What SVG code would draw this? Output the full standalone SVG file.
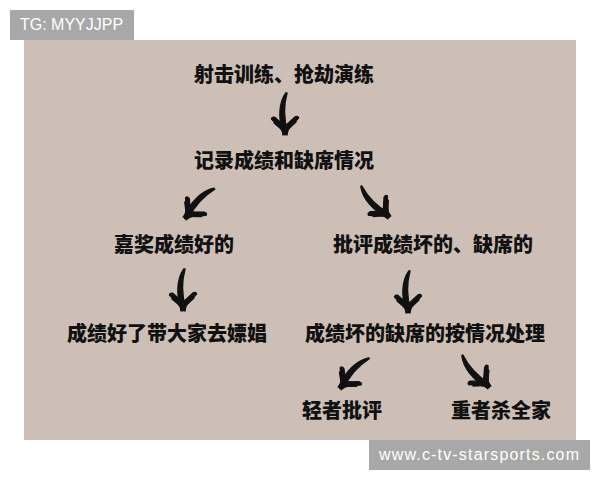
<svg xmlns="http://www.w3.org/2000/svg" width="600" height="480" viewBox="0 0 600 480">
  <style>
    .node text { font-family: "Noto Sans CJK SC", "Noto Sans", sans-serif; font-weight: 900; font-size: 20px; fill: #111111; text-anchor: middle; }
    .tag rect { fill: #a8a8a8; }
    .tag text { font-family: "Liberation Sans", Arial, sans-serif; font-size: 16px; fill: #ffffff; }
    .arrow { fill: #111111; stroke: #111111; stroke-width: 1.4; stroke-linejoin: round; }
  </style>
  <defs>
    <g id="brushArrow">
      <path d="M 0.8,-40 C -6,-30 -7,-15 -2,-1 L 2.5,-1.5 C -1.5,-15 -1,-29 2,-40 Z"/>
      <path d="M 2,2 L -13.5,-14 Q -13,-16.5 -10,-15.5 L 3,-4 Z"/>
      <path d="M -2,2 L 13.5,-15 Q 13,-17.5 10,-16 L -3,-4 Z"/>
      <path d="M -5.5,-6.5 L 5.5,-7 L 0,2 Z"/>
      <path d="M 0,-1 L -11,-10 L -10,-11.5 L 1,-3 Z"/>
      <path d="M 0,-1 L 11,-11 L 10,-12.5 L -1,-3 Z"/>
    </g>
  </defs>

  <rect x="0" y="0" width="600" height="480" fill="#ffffff"/>
  <rect x="24" y="40" width="552" height="400" fill="#cdbfb6"/>

  <g id="connectors" class="arrow">
    <use href="#brushArrow" transform="translate(285,133)"/>
    <use href="#brushArrow" transform="translate(186,217) rotate(43)"/>
    <use href="#brushArrow" transform="translate(388,216) rotate(-44)"/>
    <use href="#brushArrow" transform="translate(183,309)"/>
    <use href="#brushArrow" transform="translate(408,311)"/>
    <use href="#brushArrow" transform="translate(341,387) rotate(42)"/>
    <use href="#brushArrow" transform="translate(488,386) rotate(-42)"/>
  </g>

  <g id="n1" class="node"><text x="284" y="82">射击训练、抢劫演练</text></g>
  <g id="n2" class="node"><text x="284" y="168">记录成绩和缺席情况</text></g>
  <g id="n3" class="node"><text x="174" y="252">嘉奖成绩好的</text></g>
  <g id="n4" class="node"><text x="433" y="252">批评成绩坏的、缺席的</text></g>
  <g id="n5" class="node"><text x="167" y="341">成绩好了带大家去嫖娼</text></g>
  <g id="n6" class="node"><text x="425" y="341">成绩坏的缺席的按情况处理</text></g>
  <g id="n7" class="node"><text x="342" y="418">轻者批评</text></g>
  <g id="n8" class="node"><text x="501" y="418">重者杀全家</text></g>

  <g id="tag-top" class="tag">
    <rect x="10" y="10" width="124" height="30"/>
    <text x="20" y="30">TG: MYYJJPP</text>
  </g>
  <g id="tag-bottom" class="tag">
    <rect x="369" y="440" width="221" height="30"/>
    <text x="379" y="460" textLength="200" lengthAdjust="spacing">www.c-tv-starsports.com</text>
  </g>
</svg>
